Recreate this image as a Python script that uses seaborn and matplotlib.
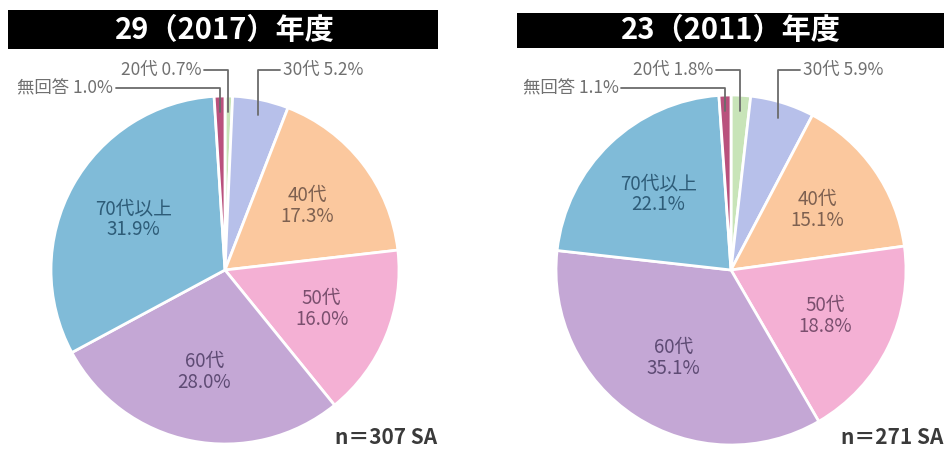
import numpy as np
import matplotlib
matplotlib.use("Agg")
import matplotlib.pyplot as plt
from matplotlib.patches import Rectangle
import seaborn as sns

# ----------------------------
# Data
# ----------------------------
categories = ['20代', '30代', '40代', '50代', '60代', '70代以上', '無回答']
values_2017 = [0.7, 5.2, 17.3, 16.0, 28.0, 31.9, 1.0]
values_2011 = [1.8, 5.9, 15.1, 18.8, 35.1, 22.1, 1.1]
titles = ['29（2017）年度', '23（2011）年度']
n_labels = ['n＝307 SA', 'n＝271 SA']

slice_colors = ['#c8e4b8', '#b7c0ea', '#fbc89e', '#f4b0d4', '#c4a7d5', '#80bbd8', '#b9517d']
text_colors = ['#555555', '#555555', '#7d6050', '#7a4f6e', '#5e4b74', '#2e5c78', '#555555']

# small slices get a leader line: side of the text, height above pie centre, gap to line
leaders = {'20代': ('left', 200, 27), '30代': ('right', 200, 25), '無回答': ('left', 182, 107)}

sns.set_theme(style='white')
plt.rcParams['font.family'] = ['Noto Sans CJK JP', 'DejaVu Sans']

fig = plt.figure(figsize=(9.44, 4.5), dpi=100)
ax = fig.add_axes([0, 0, 1, 1])

pies = [
    (values_2017, (225, 180), 174, (8, 401, 430, 39), 437),
    (values_2011, (731, 180), 175, (517, 402, 428, 35), 943),
]

for (vals, (cx, cy), r, box, n_x), title, n_lab in zip(pies, titles, n_labels):
    labels = [f'{c}\n{v:.1f}%' if v >= 10 else '' for c, v in zip(categories, vals)]
    wedges, texts = ax.pie(vals, colors=slice_colors, startangle=90, counterclock=False,
                           center=(cx, cy), radius=r, frame=True,
                           labels=labels, labeldistance=0.6,
                           wedgeprops=dict(edgecolor='white', linewidth=2))
    for t, col in zip(texts, text_colors):
        t.set_ha('center')
        t.set_va('center')
        t.set_color(col)
        t.set_fontsize(13.5)
        t.set_linespacing(1.0)

    # leader lines for the thin slices
    for w, c, v in zip(wedges, categories, vals):
        if c not in leaders:
            continue
        side, dy, gap = leaders[c]
        mid = np.deg2rad((w.theta1 + w.theta2) / 2)
        axx = cx + 0.91 * r * np.cos(mid)
        ayy = cy + 0.91 * r * np.sin(mid)
        ty = cy + dy
        if side == 'left':
            tx = axx - gap
            ax.plot([tx + 3, axx, axx], [ty, ty, ayy], color='#6b6b6b', lw=1.3)
            ax.text(tx, ty, f'{c} {v:.1f}%', ha='right', va='center', fontsize=12.5, color='#707070')
        else:
            tx = axx + gap
            ax.plot([tx - 3, axx, axx], [ty, ty, ayy], color='#6b6b6b', lw=1.3)
            ax.text(tx, ty, f'{c} {v:.1f}%', ha='left', va='center', fontsize=12.5, color='#707070')

    # title box
    bx, by, bw, bh = box
    ax.add_patch(Rectangle((bx, by), bw, bh, facecolor='black', edgecolor='none'))
    ax.text(cx, by + bh / 2, title, ha='center', va='center', color='white',
            fontsize=21, fontweight='bold')

    ax.text(n_x, 12, n_lab, ha='right', va='center', fontsize=15, fontweight='bold', color='#3a3a3a')

ax.set_xlim(0, 944)
ax.set_ylim(0, 450)
ax.axis('off')

plt.savefig('out.png', dpi=100)
